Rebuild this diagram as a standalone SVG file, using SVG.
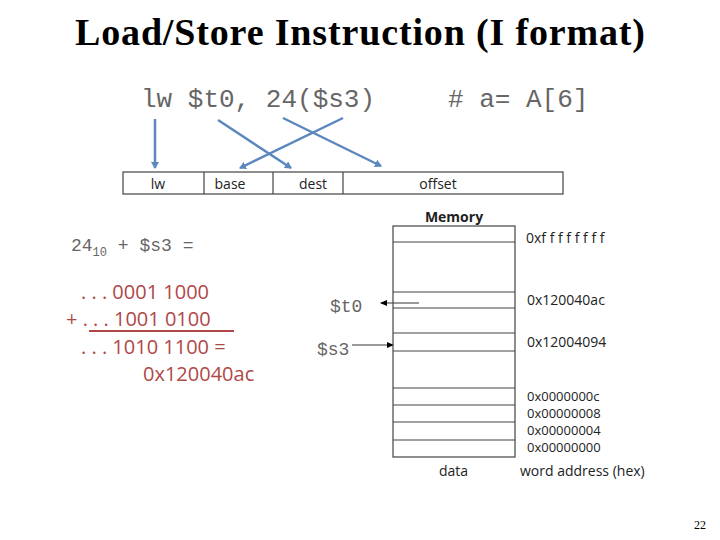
<svg xmlns="http://www.w3.org/2000/svg" width="720" height="540" viewBox="0 0 720 540">
<style>
.mono{font-family:"Liberation Mono",monospace;fill:#666}
.sans{font-family:"Open Sans","Liberation Sans",sans-serif;font-size:14px;fill:#222}
.addr{font-size:13px}
.red{font-family:"Open Sans","Liberation Sans",sans-serif;font-size:20px;fill:#b04848}
.cell{fill:none;stroke:#444;stroke-width:1.2}
.blue{stroke:#5b87bf;stroke-width:2.5;fill:none;marker-end:url(#ba)}
.thin{stroke:#000;stroke-width:0.8;fill:none;marker-end:url(#ka)}
</style>
<defs>
<marker id="ba" markerWidth="8" markerHeight="8" refX="6" refY="4" orient="auto" markerUnits="userSpaceOnUse"><path d="M0,0 L7,4 L0,8 Z" fill="#5b87bf"/></marker>
<marker id="ka" markerWidth="7" markerHeight="6" refX="6" refY="3" orient="auto" markerUnits="userSpaceOnUse"><path d="M0,0 L7,3 L0,6 Z" fill="#000"/></marker>
</defs>
<rect width="720" height="540" fill="#fff"/>
<text x="360" y="45" text-anchor="middle" font-family="Liberation Serif,serif" font-size="38" font-weight="bold" textLength="570">Load/Store Instruction (I format)</text>
<g id="instr"><text x="141" y="107" class="mono" font-size="26">lw $t0, 24($s3)</text><text x="448" y="107" class="mono" font-size="26"># a= A[6]</text></g>
<g id="format">
<rect x="123" y="172" width="440" height="22" class="cell"/>
<line x1="204" y1="172" x2="204" y2="194" class="cell"/><line x1="273" y1="172" x2="273" y2="194" class="cell"/><line x1="343" y1="172" x2="343" y2="194" class="cell"/>
<text x="158" y="189" class="sans" text-anchor="middle">lw</text><text x="230" y="189" class="sans" text-anchor="middle">base</text><text x="313" y="189" class="sans" text-anchor="middle">dest</text><text x="438" y="189" class="sans" text-anchor="middle">offset</text>
</g>
<g id="connectors">
<line x1="155" y1="119" x2="155" y2="168" class="blue"/>
<line x1="218" y1="120" x2="291" y2="168" class="blue"/>
<line x1="343" y1="118" x2="240" y2="168" class="blue"/>
<line x1="283" y1="118" x2="381" y2="166" class="blue"/>
<line x1="419" y1="303" x2="381" y2="303" class="thin"/>
<line x1="352" y1="345" x2="393" y2="345" class="thin"/>
</g>
<g id="calc">
<text x="71" y="251" class="mono" font-size="18">24<tspan font-size="12" dy="5">10</tspan><tspan dy="-5"> + $s3 =</tspan></text>
<text x="81" y="299" class="red">. . . 0001 1000</text>
<text x="66" y="326" class="red">+ . . . 1001 0100</text>
<line x1="89" y1="331" x2="234" y2="331" stroke="#b04848" stroke-width="2"/>
<text x="81" y="354" class="red">. . . 1010 1100 =</text>
<text x="143" y="381" class="red">0x120040ac</text>
</g>
<g id="memory">
<text x="454" y="222" class="sans" font-weight="bold" text-anchor="middle" font-size="13">Memory</text>
<rect x="393" y="226" width="122" height="231" class="cell"/>
<path d="M393 242H515M393 292H515M393 308H515M393 333H515M393 351H515M393 388H515M393 405H515M393 422H515M393 440H515" class="cell"/>
<text x="330" y="312" class="mono" font-size="18">$t0</text>
<text x="317" y="355" class="mono" font-size="18">$s3</text>
<g class="sans"><text x="526" y="243">0xf f f f f f f f</text><text x="527" y="305">0x120040ac</text><text x="527" y="347">0x12004094</text>
<text x="527" y="401" class="addr">0x0000000c</text><text x="527" y="418" class="addr">0x00000008</text><text x="527" y="435" class="addr">0x00000004</text><text x="527" y="452" class="addr">0x00000000</text>
<text x="439" y="476">data</text><text x="520" y="476">word address (hex)</text></g>
</g>
<text x="706" y="529" font-family="Liberation Serif,serif" font-size="12" text-anchor="end">22</text>
</svg>
